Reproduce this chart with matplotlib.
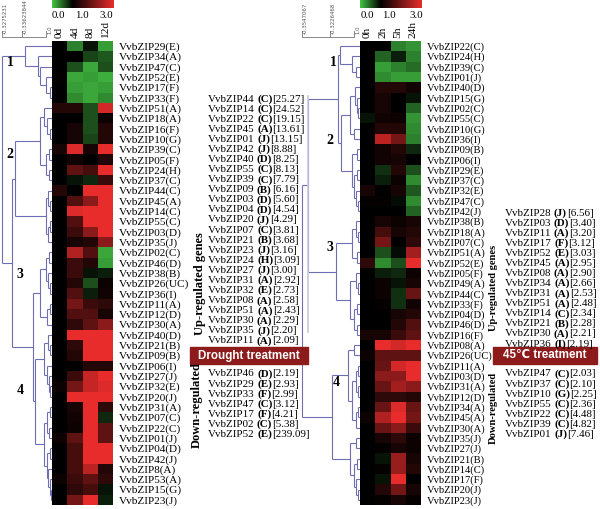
import matplotlib
matplotlib.use('Agg')
import matplotlib.pyplot as plt
import numpy as np
from matplotlib.colors import LinearSegmentedColormap, TwoSlopeNorm

plt.rcParams['font.family'] = ['Liberation Serif', 'DejaVu Sans']

# ---------------- data ----------------
drought_cols = ['0d', '4d', '8d', '12d']
drought_genes = ['VvbZIP29(E)', 'VvbZIP34(A)', 'VvbZIP47(C)', 'VvbZIP52(E)', 'VvbZIP17(F)',
                 'VvbZIP33(F)', 'VvbZIP51(A)', 'VvbZIP18(A)', 'VvbZIP16(F)', 'VvbZIP10(G)',
                 'VvbZIP39(C)', 'VvbZIP05(F)', 'VvbZIP24(H)', 'VvbZIP37(C)', 'VvbZIP44(C)',
                 'VvbZIP45(A)', 'VvbZIP14(C)', 'VvbZIP55(C)', 'VvbZIP03(D)', 'VvbZIP35(J)',
                 'VvbZIP02(C)', 'VvbZIP46(D)', 'VvbZIP38(B)', 'VvbZIP26(UC)', 'VvbZIP36(I)',
                 'VvbZIP11(A)', 'VvbZIP12(D)', 'VvbZIP30(A)', 'VvbZIP40(D)', 'VvbZIP21(B)',
                 'VvbZIP09(B)', 'VvbZIP06(I)', 'VvbZIP27(J)', 'VvbZIP32(E)', 'VvbZIP20(J)',
                 'VvbZIP31(A)', 'VvbZIP07(C)', 'VvbZIP22(C)', 'VvbZIP01(J)', 'VvbZIP04(D)',
                 'VvbZIP42(J)', 'VvbZIP8(A)', 'VvbZIP53(A)', 'VvbZIP15(G)', 'VvbZIP23(J)']
drought_values = [
    [1.0, 0.35, 0.9, 0.2], [1.0, 1.0, 0.65, 0.55], [1.0, 0.6, 0.15, 0.6], [1.05, 0.15, 0.2, 0.12],
    [1.0, 0.2, 0.15, 0.2], [1.0, 0.3, 0.15, 0.3], [1.3, 1.3, 0.6, 2.8], [1.0, 1.0, 0.6, 1.1],
    [1.0, 1.2, 0.6, 1.3], [1.0, 1.2, 0.65, 1.3], [1.2, 2.9, 1.2, 3.0], [1.0, 1.15, 1.0, 1.3],
    [1.0, 1.8, 1.6, 3.0], [1.0, 0.9, 0.8, 1.5], [1.3, 1.0, 3.0, 3.0], [1.0, 1.7, 2.2, 3.0],
    [1.0, 2.9, 3.0, 3.0], [1.0, 1.7, 3.0, 3.0], [1.0, 1.5, 2.2, 3.0], [1.0, 1.2, 1.3, 2.2],
    [1.0, 2.5, 1.7, 0.15], [1.0, 1.5, 1.3, 0.2], [1.0, 1.5, 0.9, 0.85], [1.0, 1.3, 0.6, 1.1],
    [1.0, 1.7, 0.85, 1.15], [1.0, 2.0, 1.5, 1.4], [1.0, 1.7, 1.7, 1.2], [1.0, 1.4, 1.8, 2.2],
    [1.0, 3.0, 3.0, 3.0], [1.0, 1.4, 3.0, 3.0], [1.0, 1.3, 3.0, 3.0], [1.0, 1.0, 1.3, 1.3],
    [1.0, 1.5, 2.7, 3.0], [1.1, 2.0, 2.7, 2.9], [1.0, 3.0, 3.0, 3.0], [1.0, 1.2, 3.0, 1.4],
    [1.0, 1.15, 3.0, 0.8], [1.0, 1.1, 3.0, 1.8], [1.1, 1.8, 3.0, 1.8], [1.0, 1.6, 3.0, 3.0],
    [1.0, 1.6, 3.0, 3.0], [1.0, 1.6, 2.6, 1.3], [1.1, 1.5, 1.8, 1.4], [1.0, 1.4, 1.6, 0.9],
    [1.0, 2.0, 3.0, 0.85]]

heat_cols = ['0h', '2h', '5h', '24h']
heat_genes = ['VvbZIP22(C)', 'VvbZIP24(H)', 'VvbZIP39(C)', 'VvbZIP01(J)', 'VvbZIP40(D)',
              'VvbZIP15(G)', 'VvbZIP02(C)', 'VvbZIP55(C)', 'VvbZIP10(G)', 'VvbZIP36(I)',
              'VvbZIP09(B)', 'VvbZIP06(I)', 'VvbZIP29(E)', 'VvbZIP37(C)', 'VvbZIP32(E)',
              'VvbZIP47(C)', 'VvbZIP42(J)', 'VvbZIP38(B)', 'VvbZIP18(A)', 'VvbZIP07(C)',
              'VvbZIP51(A)', 'VvbZIP52(E)', 'VvbZIP05(F)', 'VvbZIP49(A)', 'VvbZIP44(C)',
              'VvbZIP33(F)', 'VvbZIP04(D)', 'VvbZIP46(D)', 'VvbZIP16(F)', 'VvbZIP08(A)',
              'VvbZIP26(UC)', 'VvbZIP11(A)', 'VvbZIP03(D)', 'VvbZIP31(A)', 'VvbZIP12(D)',
              'VvbZIP34(A)', 'VvbZIP45(A)', 'VvbZIP30(A)', 'VvbZIP35(J)', 'VvbZIP27(J)',
              'VvbZIP21(B)', 'VvbZIP14(C)', 'VvbZIP17(F)', 'VvbZIP20(J)', 'VvbZIP23(J)']
heat_values = [
    [1.0, 1.0, 0.35, 0.25], [1.0, 0.5, 0.85, 0.35], [1.0, 0.2, 0.35, 0.45], [1.0, 0.3, 0.2, 0.2],
    [1.0, 1.3, 1.3, 1.15], [1.0, 1.2, 1.0, 0.9], [1.0, 1.2, 1.0, 0.5], [0.9, 1.15, 1.1, 0.25],
    [1.0, 1.3, 1.3, 0.3], [1.0, 2.6, 2.0, 0.35], [1.0, 1.15, 1.3, 0.8], [1.0, 1.15, 1.2, 1.0],
    [1.0, 0.75, 1.3, 0.6], [1.0, 0.85, 1.1, 0.3], [1.2, 1.0, 1.2, 0.55], [1.05, 1.05, 0.95, 0.3],
    [1.0, 1.0, 1.0, 0.5], [1.0, 1.2, 1.1, 1.2], [1.0, 1.6, 1.2, 1.3], [1.0, 2.0, 1.0, 1.4],
    [1.0, 0.6, 0.95, 2.4], [1.4, 0.3, 0.6, 3.0], [1.0, 0.85, 0.8, 1.1], [1.0, 1.1, 0.9, 1.2],
    [1.0, 1.1, 0.75, 1.9], [1.0, 1.05, 0.75, 1.15], [1.0, 1.0, 1.2, 1.3], [1.0, 1.0, 1.3, 1.7],
    [1.2, 1.2, 1.5, 1.8], [1.0, 3.0, 2.8, 3.0], [1.1, 1.8, 1.8, 1.8], [1.0, 1.9, 2.8, 3.0],
    [1.0, 2.2, 2.2, 3.0], [1.0, 1.9, 2.4, 2.2], [1.0, 1.4, 1.4, 1.3], [1.0, 1.9, 2.9, 1.9],
    [1.1, 2.5, 3.0, 2.0], [1.0, 1.9, 2.2, 1.5], [1.0, 1.2, 1.4, 1.1], [1.0, 1.05, 1.2, 1.1],
    [1.0, 0.9, 2.3, 1.2], [1.0, 1.05, 2.3, 1.3], [1.0, 0.9, 3.0, 1.0], [1.0, 1.3, 2.0, 1.2],
    [1.0, 1.05, 1.2, 1.05]]

# dendrograms: (merge height, left, right); leaves are row indices
drought_tree = (50,
    (27, 0, (14, 1, (12, 2, (6, 3, (2, 4, 5))))),
    (40,
        (37, (12, (8, 6, (5, 7, (2, 8, 9))), (6, (3, 10, 11), (3, 12, 13))),
             (6, (4, 14, (2, 15, 16)), (4, (2, 17, 18), 19))),
        (19, (12, (6, (3, 20, 21), (4, 22, (2, 23, 24))), (5, (2, 25, 26), 27)),
             (17, (8, (4, 28, (2, 29, 30)), (5, 31, (3, 32, (2, 33, 34)))),
                  (8, (5, (2, 35, 36), (3, 37, 38)),
                      (5, (2, 39, 40), (4, 41, (2, 42, (1, 43, 44)))))))))
heat_tree = (58,
    (52, (22, (20, 0, (8, 1, (4, 2, 3))),
              (19, (10, (5, 4, (3, 5, (2, 6, 7))), (6, 8, 9)),
                   (8, (3, 10, 11), (6, (3, 12, 13), (4, 14, (2, 15, 16)))))),
         (24, (8, (4, 17, (2, 18, 19)), (3, 20, 21)),
              (10, (4, 22, (2, 23, 24)), (6, (3, 25, 26), (3, 27, 28))))),
    (28, (12, (6, 29, 30), (8, (4, (2, 31, 32), (2, 33, 34)), (4, (2, 35, 36), 37))),
         (10, (4, 38, 39), (6, (3, 40, 41), (4, 42, (2, 43, 44))))))

drought_up_genes = ['VvbZIP44', 'VvbZIP14', 'VvbZIP22', 'VvbZIP45', 'VvbZIP01', 'VvbZIP42',
                    'VvbZIP40', 'VvbZIP55', 'VvbZIP39', 'VvbZIP09', 'VvbZIP03', 'VvbZIP04',
                    'VvbZIP20', 'VvbZIP07', 'VvbZIP21', 'VvbZIP23', 'VvbZIP24', 'VvbZIP27',
                    'VvbZIP31', 'VvbZIP32', 'VvbZIP08', 'VvbZIP51', 'VvbZIP30', 'VvbZIP35',
                    'VvbZIP11']
drought_up_groups = ['C', 'C', 'C', 'A', 'J', 'J', 'D', 'C', 'C', 'B', 'D', 'D', 'J', 'C',
                     'B', 'J', 'H', 'J', 'A', 'E', 'A', 'A', 'A', 'J', 'A']
drought_up_fold = ['25.27', '24.52', '19.15', '13.61', '13.15', '8.88', '8.25', '8.13', '7.79',
                   '6.16', '5.60', '4.54', '4.29', '3.81', '3.68', '3.16', '3.09', '3.00',
                   '2.92', '2.73', '2.58', '2.43', '2.29', '2.20', '2.09']
drought_down_genes = ['VvbZIP46', 'VvbZIP29', 'VvbZIP33', 'VvbZIP47', 'VvbZIP17', 'VvbZIP02',
                      'VvbZIP52']
drought_down_groups = ['D', 'E', 'F', 'C', 'F', 'C', 'E']
drought_down_fold = ['2.19', '2.93', '2.99', '3.12', '4.21', '5.38', '239.09']

heat_up_genes = ['VvbZIP28', 'VvbZIP03', 'VvbZIP11', 'VvbZIP17', 'VvbZIP52', 'VvbZIP45',
                 'VvbZIP08', 'VvbZIP34', 'VvbZIP31', 'VvbZIP51', 'VvbZIP14', 'VvbZIP21',
                 'VvbZIP30', 'VvbZIP36']
heat_up_groups = ['J', 'D', 'A', 'F', 'E', 'A', 'A', 'A', 'A', 'A', 'C', 'B', 'A', 'I']
heat_up_fold = ['6.56', '3.40', '3.20', '3.12', '3.03', '2.95', '2.90', '2.66', '2.53', '2.48',
                '2.34', '2.28', '2.21', '2.19']
heat_down_genes = ['VvbZIP47', 'VvbZIP37', 'VvbZIP10', 'VvbZIP55', 'VvbZIP22', 'VvbZIP39',
                   'VvbZIP01']
heat_down_groups = ['C', 'C', 'G', 'C', 'C', 'C', 'J']
heat_down_fold = ['2.03', '2.10', '2.25', '2.36', '4.48', '4.82', '7.46']

colorbar_ticks = [0.0, 1.0, 3.0]
drought_ruler = ['-0.3275231', '-0.33623844', '1.0']
heat_ruler = ['-0.3547067', '-0.3226468', '1.0']

# ---------------- drawing ----------------
W, H = 600, 509
fig = plt.figure(figsize=(6, 5.09), dpi=100)
renderer = fig.canvas.get_renderer()
cmap = LinearSegmentedColormap.from_list('gbr', [(0.0, '#45c445'), (0.5, '#000000'), (1.0, '#e82c2c')])
norm = TwoSlopeNorm(vmin=0.0, vcenter=1.0, vmax=3.0)
tree_color = '#6e6eb4'
box_color = '#8e1b1b'


def ax_px(x0, y0, w, h):
    return fig.add_axes([x0 / W, 1 - (y0 + h) / H, w / W, h / H])


def ftext(x, y, s, **kw):
    return fig.text(x / W, 1 - y / H, s, **kw)


def draw_tree(ax, node):
    if isinstance(node, int):
        return node + 0.5, 0
    h, a, b = node
    ya, ha = draw_tree(ax, a)
    yb, hb = draw_tree(ax, b)
    kw = dict(color=tree_color, lw=0.8, solid_capstyle='butt')
    ax.plot([ha, h], [ya, ya], **kw)
    ax.plot([hb, h], [yb, yb], **kw)
    ax.plot([h, h], [ya, yb], **kw)
    return (ya + yb) / 2, h


def panel(x_hm, x_tree, genes, values, cols, tree, ruler, ruler_x, cb_x, cluster_pos, lab_fs):
    n = len(genes)
    top, bottom = 41, 505
    hm_w = 61
    ax = ax_px(x_hm, top, hm_w, bottom - top)
    ax.pcolormesh(np.array(values), cmap=cmap, norm=norm)
    ax.set_ylim(n, 0)
    ax.set_xlim(0, len(cols))
    ax.set_xticks([])
    ax.yaxis.tick_right()
    ax.set_yticks(np.arange(n) + 0.5)
    ax.set_yticklabels(genes, fontsize=lab_fs)
    ax.tick_params(axis='y', length=0, pad=4)
    for s in ax.spines.values():
        s.set_visible(False)
    # column headers
    for i, c in enumerate(cols):
        ftext(x_hm + (i + 0.5) * hm_w / len(cols), 38.5, c, rotation=90,
              ha='center', va='bottom', fontsize=8.2)
    # colorbar
    cax = ax_px(x_hm, 0, hm_w + 1, 8)
    grad = np.linspace(0, 3, 256)[None, :]
    cax.imshow(grad, aspect='auto', cmap=cmap, norm=norm, extent=(0, 1, 0, 1))
    cax.axis('off')
    for t, xx in zip(colorbar_ticks, cb_x):
        ftext(xx, 16, f'{t:.1f}', ha='center', va='center', fontsize=7.8)
    # dendrogram
    tw = x_hm - x_tree
    tax = ax_px(x_tree, top, tw, bottom - top)
    draw_tree(tax, tree)
    tax.set_ylim(n, 0)
    tax.set_xlim(tw, 0)
    tax.axis('off')
    for lab, (cx, cy) in zip(['1', '2', '3', '4'], cluster_pos):
        ftext(cx, cy, lab, fontsize=10, fontweight='bold', ha='center', va='center')
    # ruler
    gray = '#8a8a8a'
    fig.add_artist(plt.Line2D([ruler_x[0] / W, ruler_x[-1] / W], [1 - 37 / H, 1 - 37 / H],
                              color=gray, lw=0.7))
    for lab, xx in zip(ruler, ruler_x):
        fig.add_artist(plt.Line2D([xx / W, xx / W], [1 - 37 / H, 1 - 31 / H], color=gray, lw=0.7))
        ftext(xx + 3.5, 34, lab, rotation=90, ha='center', va='bottom',
              fontsize=3.9, color='#555555', family='DejaVu Sans')


panel(52, 0, drought_genes, drought_values, drought_cols, drought_tree, drought_ruler,
      [2, 22, 46], [58, 82, 106], [(10, 63), (10, 155), (20, 275), (20, 391)], 8.1)
panel(360, 300, heat_genes, heat_values, heat_cols, heat_tree, heat_ruler,
      [302, 330, 354], [367, 389, 416], [(333, 63), (330, 140), (330, 247), (336, 382)], 7.6)


def gene_list(x, y0, genes, groups, folds, step=10.08, fs=7.9):
    for i, (g, gr, f) in enumerate(zip(genes, groups, folds)):
        y = y0 + i * step
        cur = x
        for s, wt, gap in [(g, 'normal', 2.4), ('(' + gr + ')', 'bold', 0), ('[' + f + ']', 'normal', 0)]:
            t = ftext(cur, y, s, ha='left', va='center_baseline', fontsize=fs, fontweight=wt)
            cur += t.get_window_extent(renderer).width + gap


gene_list(208, 98, drought_up_genes, drought_up_groups, drought_up_fold)
gene_list(208, 373, drought_down_genes, drought_down_groups, drought_down_fold)
gene_list(505, 212, heat_up_genes, heat_up_groups, heat_up_fold)
gene_list(505, 373, heat_down_genes, heat_down_groups, heat_down_fold)

# side labels
ftext(200, 284, 'Up-regulated genes', rotation=90, ha='center', va='center',
      fontsize=9, fontweight='bold')
ftext(197, 405, 'Down-regulated', rotation=90, ha='center', va='center',
      fontsize=9, fontweight='bold')
ftext(494, 288, 'Up-regulated genes', rotation=90, ha='center', va='center',
      fontsize=7.6, fontweight='bold')
ftext(493, 408, 'Down-regulated', rotation=90, ha='center', va='center',
      fontsize=7.6, fontweight='bold')
fig.add_artist(plt.Line2D([308 / W, 308 / W], [1 - 96 / H, 1 - 332 / H], color='#c8c8e2', lw=1.2))

# treatment boxes
for (x0, x1, label) in [(190, 308, 'Drought treatment'), (493, 597, '45\u2103 treatment')]:
    fig.patches.append(plt.Rectangle((x0 / W, 1 - 364 / H), (x1 - x0) / W, 17 / H,
                                     transform=fig.transFigure, color=box_color, zorder=3))
    ftext((x0 + x1) / 2, 355.5, label, ha='center', va='center', color='white',
          fontsize=8.4, fontweight='bold', family=['Liberation Sans', 'DejaVu Sans'], zorder=4)

fig.savefig('out.png', dpi=100)
